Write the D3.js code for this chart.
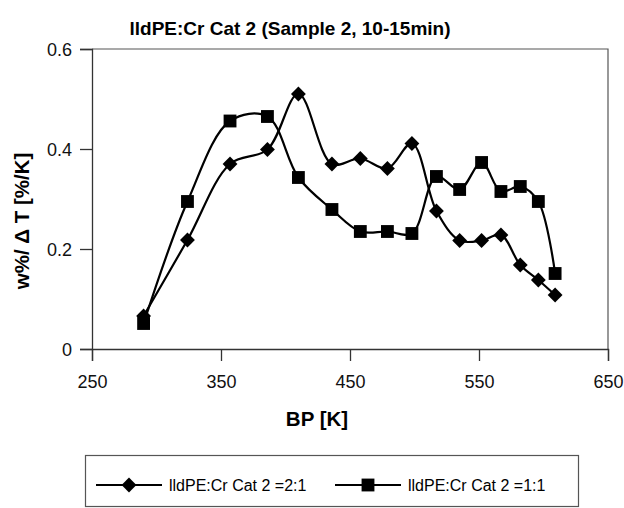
<!DOCTYPE html>
<html>
<head>
<meta charset="utf-8">
<script src="https://cdn.jsdelivr.net/npm/d3@7"></script>
<style>
  body { margin: 0; background: #fff; }
  text { font-family: "Liberation Sans", Arial, sans-serif; }
</style>
</head>
<body>
<div id="container"></div>
<script>
var width = 624;
var height = 508;

// boiling point [K] (shared by both series)
var bp = [290, 324, 357, 386, 410, 436, 458, 479, 498, 517, 535, 552, 567, 582, 596, 609];
// 2:1 series (diamonds)
var ratio21 = [0.066, 0.218, 0.370, 0.399, 0.510, 0.370, 0.381, 0.361, 0.411, 0.276, 0.217, 0.217, 0.228, 0.168, 0.138, 0.108];
// 1:1 series (squares)
var ratio11 = [0.051, 0.295, 0.456, 0.465, 0.343, 0.279, 0.235, 0.235, 0.231, 0.345, 0.319, 0.373, 0.315, 0.325, 0.295, 0.151];

var xTicks = [250, 350, 450, 550, 650];
var yTicks = [0, 0.2, 0.4, 0.6];

var margin = {left: 92, right: 16, top: 49, bottom: 159};

var x = d3.scaleLinear()
  .domain([250, 650])
  .range([margin.left, width - margin.right]);

var y = d3.scaleLinear()
  .domain([0, 0.6])
  .range([height - margin.bottom, margin.top]);

var svg = d3.select("#container")
  .append("svg")
  .attr("width", width)
  .attr("height", height);

// plot frame (top and right)
svg.append("path")
  .attr("d", "M" + x(250) + "," + y(0.6) + "H" + x(650) + "V" + y(0))
  .attr("fill", "none")
  .attr("stroke", "#555")
  .attr("stroke-width", 1.2);

var xAxis = svg.append("g")
  .attr("transform", "translate(0," + y(0) + ")")
  .call(d3.axisBottom(x).tickValues(xTicks).tickSize(12).tickPadding(14).tickFormat(d3.format("d")));

var yAxis = svg.append("g")
  .attr("transform", "translate(" + x(250) + ",0)")
  .call(d3.axisLeft(y).tickValues(yTicks).tickSize(12).tickPadding(8)
    .tickFormat(function(d) { return d === 0 ? "0" : d3.format(".1f")(d); }));

[xAxis, yAxis].forEach(function(a) {
  a.select(".domain").attr("stroke", "#333").attr("stroke-width", 1.3);
  a.selectAll(".tick line").attr("stroke", "#333").attr("stroke-width", 1.3);
  a.selectAll(".tick text")
    .attr("fill", "#111")
    .style("font-size", "18px")
    .style("font-family", "'Liberation Sans', Arial, sans-serif");
});
yAxis.selectAll(".tick text").attr("dy", "0.35em");

// title and axis labels
svg.append("text")
  .attr("x", 290)
  .attr("y", 35)
  .attr("text-anchor", "middle")
  .style("font-size", "19px")
  .style("font-weight", "bold")
  .text("lldPE:Cr Cat 2 (Sample 2, 10-15min)");

svg.append("text")
  .attr("x", 317)
  .attr("y", 426)
  .attr("text-anchor", "middle")
  .style("font-size", "20.5px")
  .style("font-weight", "bold")
  .text("BP [K]");

svg.append("text")
  .attr("transform", "translate(22,221)rotate(-90)")
  .attr("text-anchor", "middle")
  .attr("dy", "0.35em")
  .style("font-size", "20.5px")
  .style("font-weight", "bold")
  .text("w%/ \u0394 T [%/K]");

var line = d3.line()
  .x(function(d) { return x(d[0]); })
  .y(function(d) { return y(d[1]); })
  .curve(d3.curveCatmullRom.alpha(0.5));

var diamond = d3.symbol().type(d3.symbolSquare).size(110);
var square = d3.symbol().type(d3.symbolSquare).size(165);

var series = [
  {vals: ratio21, marker: "diamond", name: "lldPE:Cr Cat 2 =2:1"},
  {vals: ratio11, marker: "square", name: "lldPE:Cr Cat 2 =1:1"}
];

function drawMarker(sel, kind) {
  if (kind === "diamond") {
    sel.attr("d", diamond()).attr("transform", function() {
      return d3.select(this).attr("transform") + "rotate(45)";
    });
  } else {
    sel.attr("d", square());
  }
}

series.forEach(function(s) {
  var pts = bp.map(function(b, i) { return [b, s.vals[i]]; });
  svg.append("path")
    .datum(pts)
    .attr("fill", "none")
    .attr("stroke", "#000")
    .attr("stroke-width", 2.2)
    .attr("d", line);

  svg.append("g")
    .selectAll("path")
    .data(pts)
    .enter().append("path")
    .attr("transform", function(d) { return "translate(" + x(d[0]) + "," + y(d[1]) + ")"; })
    .attr("fill", "#000")
    .call(drawMarker, s.marker);
});

// legend
var legend = svg.append("g");
legend.append("rect")
  .attr("x", 85.5)
  .attr("y", 455.5)
  .attr("width", 493)
  .attr("height", 51)
  .attr("fill", "none")
  .attr("stroke", "#555")
  .attr("stroke-width", 1.2);

var legX = [96, 335];
series.forEach(function(s, i) {
  var g = legend.append("g").attr("transform", "translate(" + legX[i] + ",485)");
  g.append("line")
    .attr("x1", 0).attr("x2", 66)
    .attr("stroke", "#000").attr("stroke-width", 2.2);
  g.append("path")
    .attr("transform", "translate(33,0)")
    .attr("fill", "#000")
    .call(drawMarker, s.marker);
  g.append("text")
    .attr("x", 73)
    .attr("y", 0)
    .attr("dy", "0.35em")
    .style("font-size", "16px")
    .text(s.name);
});
</script>
</body>
</html>
